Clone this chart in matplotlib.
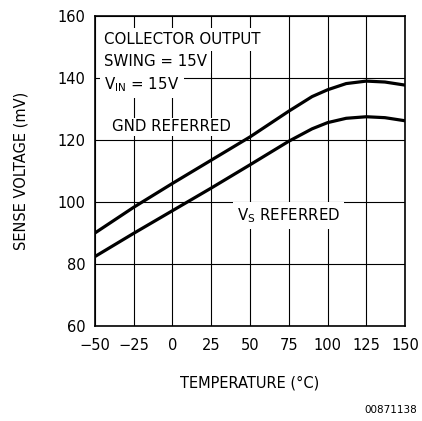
import matplotlib
matplotlib.use("Agg")
import matplotlib.pyplot as plt
import numpy as np

# temperature (C) and sense voltage (mV)
temp = [-50, -25, 0, 25, 50, 75, 90, 100, 112, 125, 137, 150]
gnd_referred = [90, 98.3, 106, 113.5, 121, 129.3, 134, 136.2, 138.2, 139, 138.7, 137.7]
vs_referred = [82.4, 89.9, 97.2, 104.5, 112, 119.6, 123.6, 125.6, 127, 127.5, 127.2, 126.2]

xticks = [-50, -25, 0, 25, 50, 75, 100, 125, 150]
yticks = [60, 80, 100, 120, 140, 160]

plt.rcParams['font.family'] = ['DejaVu Sans']

fig = plt.figure(figsize=(4.22, 4.21), dpi=100)
ax = fig.add_axes([0.225, 0.2257, 0.735, 0.7363])

ax.plot(temp, gnd_referred, color='black', linewidth=2.3, zorder=3)
ax.plot(temp, vs_referred, color='black', linewidth=2.3, zorder=3)

ax.set_xlim(-50, 150)
ax.set_ylim(60, 160)
ax.set_xticks(xticks)
ax.set_yticks(yticks)
ax.set_xticklabels([str(t).replace('-', '\u2212') for t in xticks])
ax.tick_params(axis='x', length=0, labelsize=10.5, pad=9)
ax.tick_params(axis='y', length=0, labelsize=10.5, pad=7)
ax.grid(True, color='black', linewidth=0.8)
for s in ax.spines.values():
    s.set_linewidth(1.2)

box = dict(facecolor='white', edgecolor='none', pad=3)
fs = 10.8
ax.text(-44, 152.4, 'COLLECTOR OUTPUT', fontsize=fs, va='center', ha='left', bbox=box, zorder=2)
ax.text(-44, 145.4, 'SWING = 15V', fontsize=fs, va='center', ha='left', bbox=box, zorder=2)
ax.text(-44, 138.0, 'V$_{\\rm IN}$ = 15V', fontsize=fs, va='center', ha='left', bbox=box, zorder=2)
ax.text(-39, 124.3, 'GND REFERRED', fontsize=fs, va='center', ha='left',
        bbox=dict(facecolor='white', edgecolor='none', pad=1.2), zorder=2)
ax.text(41.5, 95.5, 'V$_{\\rm S}$ REFERRED', fontsize=fs, va='center', ha='left', bbox=box, zorder=2)

ax.set_xlabel('TEMPERATURE (\u00b0C)', fontsize=10.5, labelpad=16)
ax.set_ylabel('SENSE VOLTAGE (mV)', fontsize=10.5, labelpad=21)
fig.text(0.988, 0.025, '00871138', fontsize=7.5, ha='right', va='center')

fig.savefig('out.png', dpi=100)
